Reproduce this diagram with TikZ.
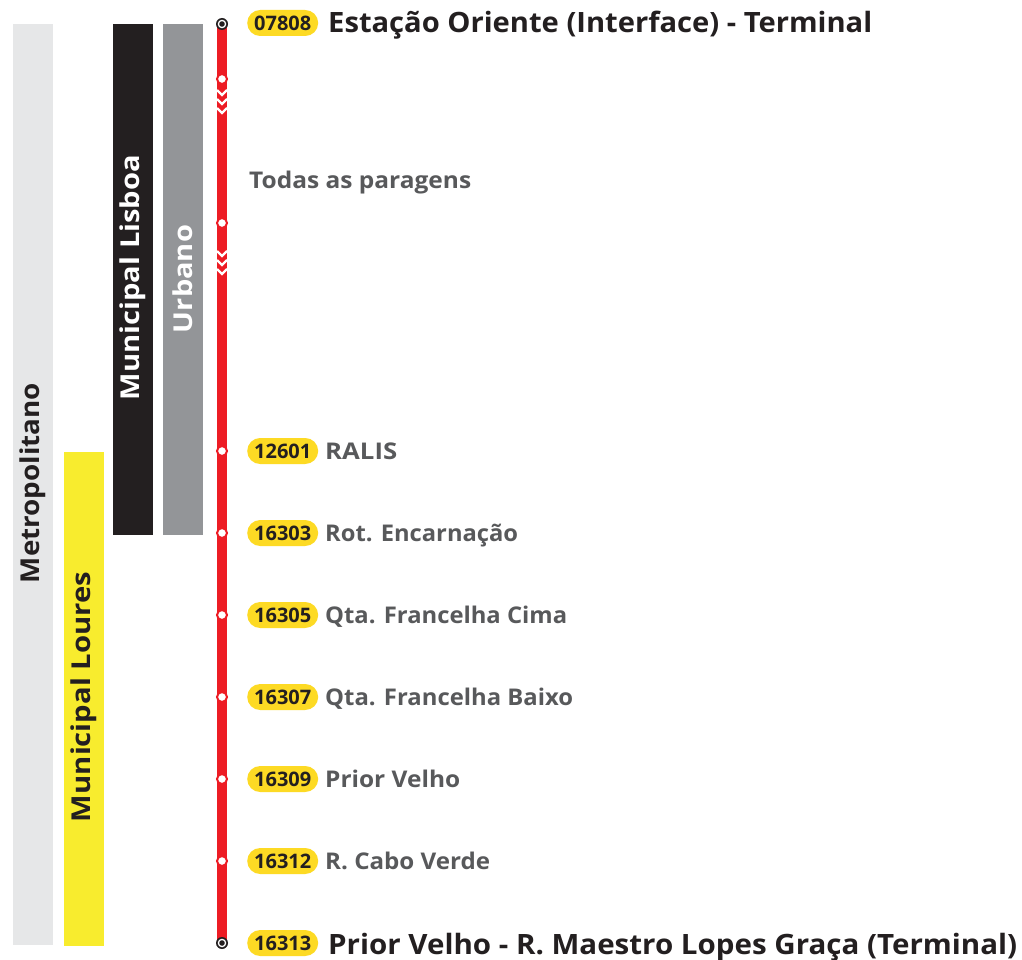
\documentclass[tikz,border=0pt]{standalone}
\usepackage{fontspec}
\setmainfont{Open Sans}
\newcommand{\fitw}[2]{\resizebox{#1pt}{\height}{#2}}
\definecolor{metro}{HTML}{E6E7E8}
\definecolor{loures}{HTML}{F8EC2E}
\definecolor{lisboa}{HTML}{231F20}
\definecolor{urbano}{HTML}{939598}
\definecolor{linered}{HTML}{ED1C24}
\definecolor{badgey}{HTML}{FDDA24}
\definecolor{dark}{HTML}{231F20}
\definecolor{greytxt}{HTML}{58595B}
\tikzset{
  zone/.style={fill=#1, draw=none},
  zonelabel/.style={rotate=90, font=\bfseries\fontsize{26}{26}\selectfont, inner sep=0},
  badge/.style={fill=badgey, rounded corners=13pt, minimum height=26pt, minimum width=71pt, inner sep=0,
     text=dark, font=\bfseries\fontsize{20}{20}\selectfont, anchor=west},
  stopname/.style={anchor=base west, inner sep=0, text=greytxt, font=\bfseries\fontsize{23}{23}\selectfont},
  termname/.style={anchor=base west, inner sep=0, text=dark, font=\bfseries\fontsize{28}{28}\selectfont},
  stopdot/.style={circle, fill=white, draw=linered, line width=2pt, minimum size=10pt, inner sep=0},
  termdot/.style={circle, fill=dark, minimum size=12pt, inner sep=0},
  redline/.style={draw=linered, line width=10pt},
  chev/.style={draw=white, line width=2.2pt},
}
\begin{document}
\begin{tikzpicture}[x=1pt,y=-1pt]
\useasboundingbox[fill=white] (0,0) rectangle (1022,960);
% zone bars
\fill[zone=metro] (13,24) rectangle (53,945);
\fill[zone=loures] (64,452) rectangle (104,946);
\fill[zone=lisboa] (113,24) rectangle (153,535);
\fill[zone=urbano] (163,24) rectangle (203,535);
\node[zonelabel, text=dark] (lmetro) at (33,483) {\fitw{200}{Metropolitano}};
\node[zonelabel, text=dark] (lloures) at (84,697) {\fitw{250}{Municipal Loures}};
\node[zonelabel, text=white] (llisboa) at (133,277.5) {\fitw{245}{Municipal Lisboa}};
\node[zonelabel, text=white] (lurbano) at (183,279) {\fitw{108}{Urbano}};
% line
\coordinate (top) at (222,24);
\coordinate (bot) at (222,943);
\draw[redline] (top) -- (bot);
% chevrons
\foreach \y in {90,99,108, 251,260,269}{
  \draw[chev] (217,\y) -- (222,\y+5) -- (227,\y);
}
% terminals
\foreach \n/\y in {t1/24, t2/943}{
  \node[termdot] (\n) at (222,\y) {};
  \fill[white] (\n) circle (4.3pt);
  \fill[dark] (\n) circle (2.8pt);
}
% intermediate stops
\foreach \n/\y in {s0/79, s00/223, s1/451, s2/533, s3/615, s4/697, s5/779, s6/861}{
  \node[stopdot] (\n) at (222,\y) {};
}
% labels
\node[badge] (b1) at (247,23) {07808};
\node[termname] (n1) at (328,33) {\fitw{544}{Estação Oriente (Interface) - Terminal}};
\node[stopname] (todas) at (249,189) {\fitw{222}{Todas as paragens}};
\foreach \n/\c/\y/\w/\t in {s1/12601/451/72/RALIS, s2/16303/533/193/Rot. Encarnação, s3/16305/615/242/Qta. Francelha Cima,
   s4/16307/697/248/Qta. Francelha Baixo, s5/16309/779/135/Prior Velho, s6/16312/861/165/R. Cabo Verde}{
  \node[badge] (b\n) at (247,\y) {\c};
  \node[stopname] (n\n) at (325,\y+8) {\fitw{\w}{\t}};
}
\node[badge] (b2) at (247,943) {16313};
\node[termname] (n2) at (328,954) {\fitw{689}{Prior Velho - R. Maestro Lopes Graça (Terminal)}};
\end{tikzpicture}
\end{document}
